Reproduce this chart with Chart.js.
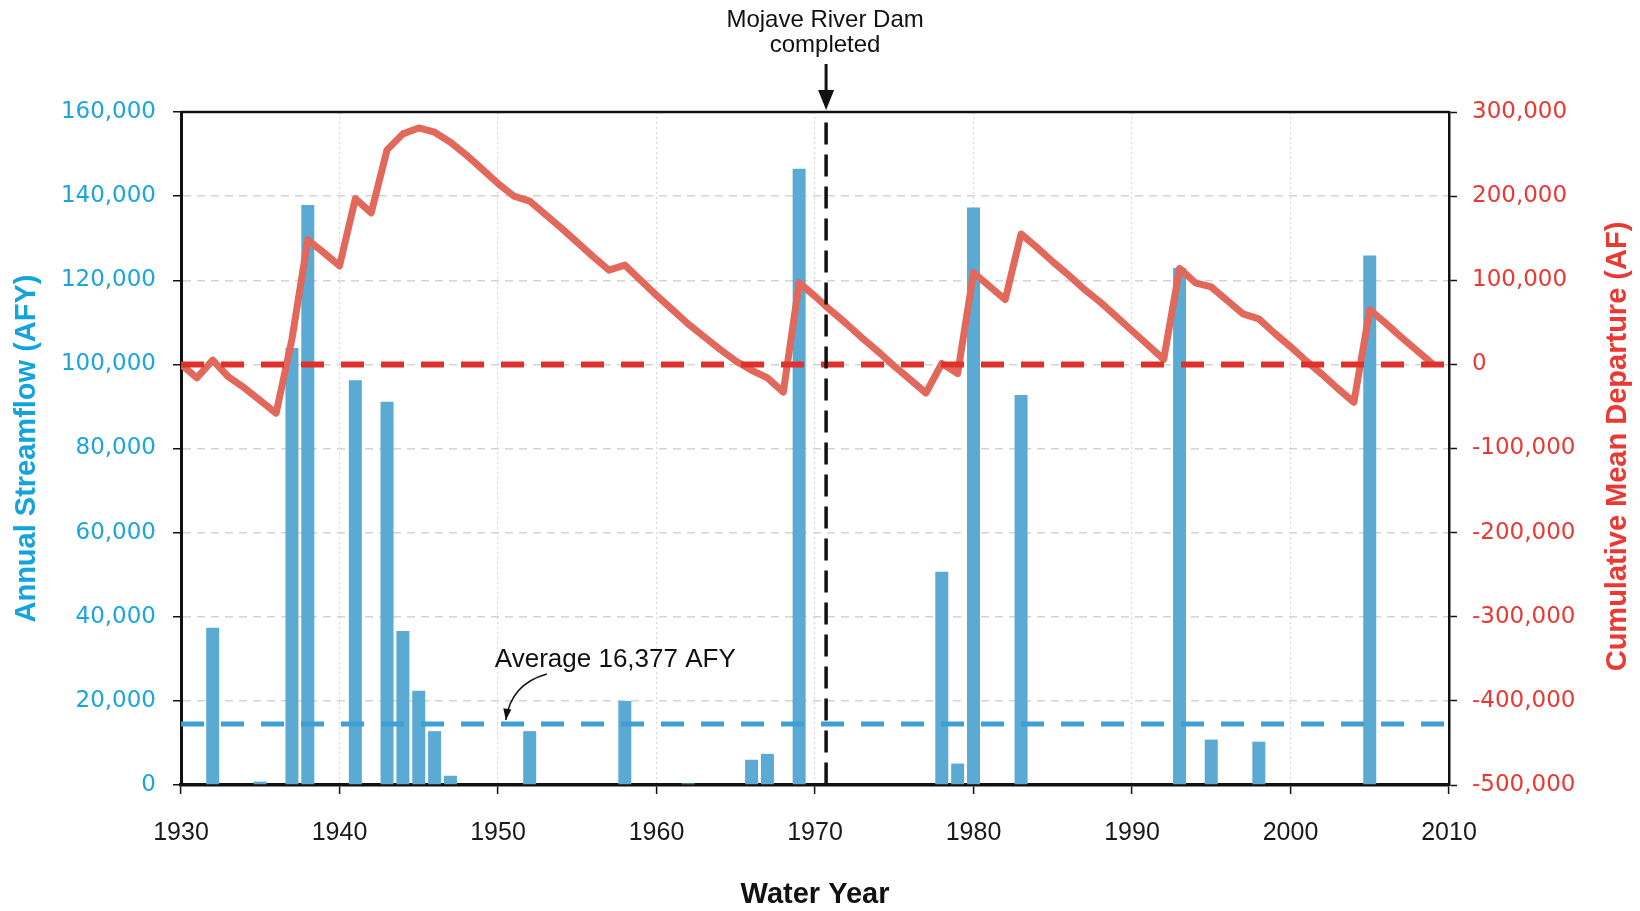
<!DOCTYPE html>
<html>
<head>
<meta charset="utf-8">
<title>Mojave River streamflow</title>
<script src="https://cdn.jsdelivr.net/npm/chart.js@4.4.0/dist/chart.umd.min.js"></script>
<style>
  body { margin: 0; background: #fff; }
  .chart-box { width: 1640px; height: 911px; position: relative; }
</style>
</head>
<body>
<div class="chart-box">
  <canvas id="flowChart"></canvas>
</div>
<script>
// --- data ---
const barYears = [1932, 1935, 1937, 1938, 1941, 1943, 1944, 1945, 1946, 1947, 1952, 1958,
                  1962, 1966, 1967, 1969, 1978, 1979, 1980, 1983, 1993, 1995, 1998, 2005];
const streamflow = [37400, 800, 103900, 137900, 96200, 91100, 36600, 22400, 12800, 2200, 12800, 20000,
                    400, 6000, 7400, 146500, 50700, 5100, 137300, 92700, 122900, 10800, 10300, 125900];

// cumulative departure, one value per water year starting 1930
const firstYear = 1930;
const cumDeparture = [
  0, -16000, 5000, -15000, -28000, -43000, -58000, 30000, 148000, 133000,
  117000, 197000, 180000, 255000, 274000, 281000, 276000, 264000, 249000, 232000,
  215000, 200000, 194000, 178000, 162000, 145000, 128000, 112000, 118000, 100000,
  82000, 65000, 48000, 33000, 18000, 4000, -7000, -16000, -33000, 97000,
  81000, 64000, 48000, 31000, 15000, -2000, -18000, -34000, 1000, -11000,
  109000, 93000, 77000, 155000, 139000, 122000, 106000, 89000, 74000, 57000,
  40000, 23000, 6000, 114000, 97000, 92000, 76000, 60000, 54000, 37000,
  21000, 4000, -12000, -29000, -45000, 65000, 49000, 32000, 16000, 0
];

const averageLine = 14500;   // where the dashed average is drawn
const averageLabel = 'Average 16,377 AFY';
const damYear = 1970.7;
const damLabel = ['Mojave River Dam', 'completed'];

const xTicks = [1930, 1940, 1950, 1960, 1970, 1980, 1990, 2000, 2010];
const leftRange = [0, 160000];
const rightRange = [-500000, 300000];

const BLUE_TEXT = '#19a5de';
const RED_TEXT = '#ea3832';
const SANS = '"Liberation Sans", Arial, sans-serif';
const WIDE = '"DejaVu Sans", Verdana, sans-serif';

Chart.defaults.font.family = SANS;

// extra drawing: top frame, dam note, average note, right title
const overlayPlugin = {
  id: 'overlay',
  afterDraw(chart) {
    const { ctx, chartArea, scales } = chart;
    const x = scales.x, y = scales.y;
    ctx.save();

    ctx.strokeStyle = '#111';
    ctx.lineWidth = 2.5;
    ctx.beginPath();
    ctx.moveTo(chartArea.left, chartArea.top);
    ctx.lineTo(chartArea.right, chartArea.top);
    ctx.stroke();

    // dam note + arrow
    const dx = x.getPixelForValue(damYear);
    ctx.fillStyle = '#111';
    ctx.font = '24px ' + SANS;
    ctx.textAlign = 'center';
    ctx.textBaseline = 'middle';
    ctx.fillText(damLabel[0], dx - 1, chartArea.top - 92);
    ctx.fillText(damLabel[1], dx - 1, chartArea.top - 67);
    ctx.lineWidth = 3;
    ctx.beginPath();
    ctx.moveTo(dx, chartArea.top - 48);
    ctx.lineTo(dx, chartArea.top - 18);
    ctx.stroke();
    ctx.beginPath();
    ctx.moveTo(dx - 8, chartArea.top - 22);
    ctx.lineTo(dx + 8, chartArea.top - 22);
    ctx.lineTo(dx, chartArea.top - 2);
    ctx.closePath();
    ctx.fill();

    // average note + curved arrow
    const ay = y.getPixelForValue(averageLine);
    const tx = x.getPixelForValue(1949.8);
    ctx.font = '26px ' + SANS;
    ctx.textAlign = 'left';
    ctx.fillText(averageLabel, tx, ay - 64);
    const sx = tx + 52, sy = ay - 50;
    const cx = tx + 16, cy = ay - 40;
    const ex = tx + 11, ey = ay - 4;
    ctx.lineWidth = 1.5;
    ctx.beginPath();
    ctx.moveTo(sx, sy);
    ctx.quadraticCurveTo(cx, cy, ex, ey);
    ctx.stroke();
    const ang = Math.atan2(ey - cy, ex - cx);
    ctx.beginPath();
    ctx.moveTo(ex, ey);
    ctx.lineTo(ex - 12 * Math.cos(ang - 0.35), ey - 12 * Math.sin(ang - 0.35));
    ctx.lineTo(ex - 12 * Math.cos(ang + 0.35), ey - 12 * Math.sin(ang + 0.35));
    ctx.closePath();
    ctx.fill();

    // right axis title reads bottom to top
    ctx.translate(1618, (chartArea.top + chartArea.bottom) / 2 - 2);
    ctx.rotate(-Math.PI / 2);
    ctx.fillStyle = RED_TEXT;
    ctx.font = 'bold 29px ' + SANS;
    ctx.textAlign = 'center';
    ctx.fillText('Cumulative Mean Departure (AF)', 0, 0);
    ctx.restore();
  }
};

const data = {
  datasets: [
    {
      type: 'line',
      label: 'dam',
      data: [{ x: damYear, y: 157500 }, { x: damYear, y: leftRange[0] }],
      yAxisID: 'y',
      borderColor: '#111',
      borderWidth: 3.5,
      borderDash: [22, 10],
      pointRadius: 0,
      order: 1
    },
    {
      type: 'line',
      label: 'zero',
      data: [{ x: xTicks[0], y: 0 }, { x: xTicks[xTicks.length - 1], y: 0 }],
      yAxisID: 'y1',
      borderColor: '#e0302b',
      borderWidth: 6,
      borderDash: [23, 17],
      pointRadius: 0,
      order: 2
    },
    {
      type: 'line',
      label: 'Cumulative Mean Departure',
      data: cumDeparture.map((v, i) => ({ x: firstYear + i, y: v })),
      yAxisID: 'y1',
      borderColor: '#e2685b',
      borderWidth: 7,
      borderJoinStyle: 'round',
      pointRadius: 0,
      tension: 0,
      order: 3
    },
    {
      type: 'line',
      label: 'average',
      data: [{ x: xTicks[0], y: averageLine }, { x: xTicks[xTicks.length - 1], y: averageLine }],
      yAxisID: 'y',
      borderColor: '#3d9fd3',
      borderWidth: 5,
      borderDash: [23, 17],
      pointRadius: 0,
      order: 4
    },
    {
      type: 'bar',
      label: 'Annual Streamflow',
      data: barYears.map((yr, i) => ({ x: yr, y: streamflow[i] })),
      yAxisID: 'y',
      backgroundColor: '#5aaad3',
      borderWidth: 0,
      barPercentage: 0.82,
      categoryPercentage: 1,
      order: 5
    }
  ]
};

const config = {
  type: 'bar',
  data: data,
  plugins: [overlayPlugin],
  options: {
    responsive: true,
    maintainAspectRatio: false,
    animation: false,
    layout: { padding: { top: 112, right: 0, bottom: 0, left: 0 } },
    plugins: {
      legend: { display: false },
      tooltip: { enabled: false }
    },
    scales: {
      x: {
        type: 'linear',
        min: xTicks[0],
        max: xTicks[xTicks.length - 1],
        offset: false,
        afterBuildTicks: (s) => { s.ticks = xTicks.map(v => ({ value: v })); },
        afterFit: (s) => { s.height = 126; },
        ticks: {
          color: '#1a1a1a',
          font: { size: 25, family: SANS },
          padding: 24,
          maxRotation: 0,
          autoSkip: false,
          callback: (v) => String(v)
        },
        grid: {
          offset: false,
          color: '#d9d9d9',
          lineWidth: 1.2,
          tickColor: '#111',
          tickLength: 9,
          tickWidth: 1.5
        },
        border: { color: '#111', width: 3.5, dash: [2, 3] },
        title: {
          display: true,
          text: 'Water Year',
          color: '#111',
          font: { size: 29, weight: 'bold', lineHeight: 1 },
          padding: { top: 0, bottom: 2 }
        }
      },
      y: {
        position: 'left',
        min: leftRange[0],
        max: leftRange[1],
        afterFit: (s) => { s.width = 181; },
        ticks: {
          stepSize: 20000,
          color: BLUE_TEXT,
          font: { size: 23, family: WIDE },
          padding: 17,
          callback: (v) => v.toLocaleString('en-US')
        },
        grid: {
          color: '#d4d4d4',
          lineWidth: 1.5,
          tickColor: '#111',
          tickLength: 8,
          tickWidth: 1.5
        },
        border: { color: '#111', width: 3, dash: [8, 6] },
        title: {
          display: true,
          text: 'Annual Streamflow (AFY)',
          color: '#13a3dd',
          font: { size: 29, weight: 'bold' },
          padding: { top: 10, bottom: 0 }
        }
      },
      y1: {
        position: 'right',
        min: rightRange[0],
        max: rightRange[1],
        afterFit: (s) => { s.width = 191; },
        ticks: {
          stepSize: 100000,
          color: RED_TEXT,
          font: { size: 23, family: WIDE },
          padding: 15,
          callback: (v) => v.toLocaleString('en-US')
        },
        grid: {
          drawOnChartArea: false,
          tickColor: '#111',
          tickLength: 8,
          tickWidth: 1.5
        },
        border: { color: '#111', width: 2.5 }
      }
    }
  }
};

let flowChart = new Chart(document.getElementById('flowChart'), config);
</script>
</body>
</html>
